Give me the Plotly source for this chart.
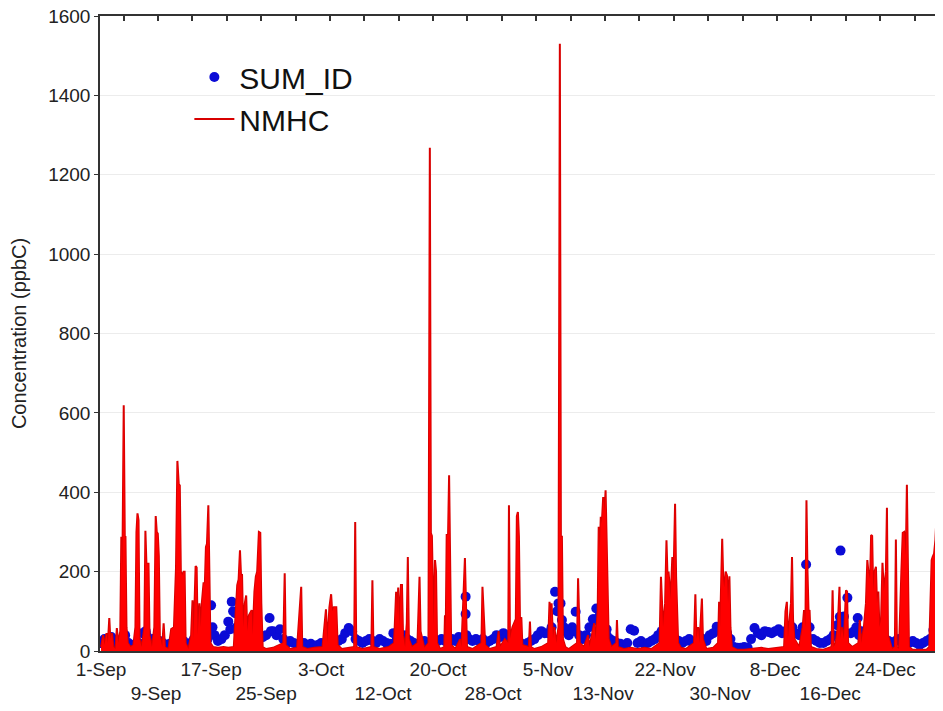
import pandas as pd
import plotly.graph_objects as go

# ---------------- data ----------------
start = pd.Timestamp("2011-09-01")

tick_dates = ["2011-09-01", "2011-09-09", "2011-09-17", "2011-09-25", "2011-10-03",
              "2011-10-12", "2011-10-20", "2011-10-28", "2011-11-05", "2011-11-13",
              "2011-11-22", "2011-11-30", "2011-12-08", "2011-12-16", "2011-12-24"]
tick_labels = ["1-Sep", "9-Sep", "17-Sep", "25-Sep", "3-Oct", "12-Oct", "20-Oct", "28-Oct",
               "5-Nov", "13-Nov", "22-Nov", "30-Nov", "8-Dec", "16-Dec", "24-Dec"]

# NMHC: time in days after 1-Sep 00:00, concentration in ppbC
nmhc_day = [
    0.0, 0.3, 0.5, 0.8, 1.0, 1.2, 1.35, 1.6, 1.8, 2.1,
    2.3, 2.5, 2.8, 2.95, 3.1, 3.3, 3.45, 3.55, 3.7, 3.9,
    4.3, 4.7, 5.0, 5.15, 5.3, 5.45, 5.6, 5.9, 6.3, 6.45,
    6.6, 6.75, 6.9, 7.05, 7.4, 7.75, 7.95, 8.1, 8.25, 8.4,
    8.55, 8.9, 9.1, 9.3, 9.8, 10.2, 10.6, 10.9, 11.1, 11.3,
    11.45, 11.6, 11.8, 12.0, 12.15, 12.3, 12.7, 13.1, 13.3, 13.45,
    13.75, 13.9, 14.05, 14.3, 14.5, 14.65, 14.9, 15.1, 15.25, 15.4,
    15.6, 15.75, 15.9, 16.3, 17.0, 17.8, 18.5, 19.3, 19.8, 20.0,
    20.2, 20.35, 20.5, 20.65, 20.9, 21.1, 21.25, 21.5, 21.9, 22.05,
    22.3, 22.5, 22.7, 22.95, 23.15, 23.3, 23.5, 24.0, 25.0, 26.5,
    26.7, 26.85, 27.5, 28.5, 29.1, 29.25, 30.0, 31.0, 32.2, 32.7,
    32.9, 33.2, 33.45, 33.6, 33.85, 34.2, 34.4, 35.0, 36.8, 36.95,
    37.1, 38.0, 39.3, 39.45, 39.6, 40.5, 41.8, 42.6, 42.9, 43.05,
    43.2, 43.35, 43.6, 43.75, 43.9, 44.2, 44.45, 44.6, 44.75, 45.2,
    46.0, 46.15, 46.3, 46.45, 47.0, 47.6, 47.8, 47.95, 48.1, 48.35,
    48.55, 48.7, 48.85, 49.3, 49.9, 50.0, 50.1, 50.25, 50.45, 50.6,
    50.75, 50.9, 51.5, 52.2, 52.4, 52.9, 53.05, 53.2, 54.0, 55.3,
    55.45, 55.55, 55.7, 55.85, 56.5, 57.5, 57.8, 58.0, 58.7, 59.2,
    59.3, 59.45, 59.8, 60.3, 60.45, 60.6, 60.75, 60.9, 61.1, 61.25,
    62.2, 62.35, 62.5, 63.0, 64.0, 65.0, 65.2, 65.35, 65.5, 65.7,
    65.9, 66.2, 66.5, 66.7, 66.85, 67.0, 67.15, 67.5, 68.0, 69.2,
    69.35, 69.5, 69.6, 70.2, 70.8, 71.0, 71.5, 71.7, 71.9, 72.2,
    72.35, 72.5, 72.65, 72.8, 73.0, 73.2, 73.35, 73.5, 73.65, 73.8,
    74.2, 74.9, 75.0, 75.15, 76.0, 77.0, 78.0, 79.0, 80.0, 81.2,
    81.4, 81.55, 81.7, 82.0, 82.2, 82.35, 82.5, 82.8, 83.05, 83.2,
    83.45, 83.6, 83.75, 83.9, 84.3, 85.0, 86.2, 86.4, 86.55, 86.8,
    87.0, 87.35, 87.5, 88.0, 89.0, 89.7, 89.85, 90.0, 90.3, 90.45,
    90.6, 90.8, 91.0, 91.15, 91.35, 91.5, 91.7, 92.5, 93.5, 95.0,
    96.0, 97.0, 98.0, 99.3, 99.5, 99.7, 99.85, 100.3, 100.45, 100.6,
    100.8, 101.5, 102.0, 102.2, 102.4, 102.55, 102.7, 102.85, 103.0, 103.2,
    104.0, 105.0, 106.2, 106.35, 106.5, 106.8, 107.1, 107.35, 107.5, 107.7,
    108.0, 108.3, 108.45, 108.6, 109.2, 110.1, 110.3, 110.5, 110.9, 111.2,
    111.4, 111.55, 111.8, 111.95, 112.1, 112.25, 112.45, 112.65, 112.8, 113.0,
    113.15, 113.4, 113.6, 113.8, 114.1, 114.25, 114.4, 114.7, 115.0, 115.4,
    115.55, 115.7, 116.0, 116.35, 116.55, 116.75, 117.0, 117.15, 117.3, 117.45,
    118.0, 119.0, 120.0, 120.4, 120.6, 120.75, 120.9, 121.1, 121.3, 121.45,
    121.6, 121.75, 121.9, 122.1,
]
nmhc_val = [
    10, 40, 15, 45, 20, 83, 30, 45, 10, 5,
    58, 20, 50, 288, 200, 619, 290, 288, 60, 20,
    10, 15, 60, 300, 347, 330, 30, 10, 60, 303,
    220, 221, 220, 40, 10, 60, 340, 300, 296, 240,
    40, 10, 70, 10, 5, 55, 60, 210, 479, 420,
    417, 200, 190, 200, 200, 20, 5, 40, 128, 30,
    214, 210, 40, 120, 60, 120, 171, 171, 262, 270,
    367, 200, 20, 10, 8, 10, 8, 10, 166, 180,
    254, 190, 191, 60, 120, 140, 50, 90, 103, 40,
    150, 187, 200, 300, 298, 120, 10, 5, 8, 20,
    196, 15, 5, 8, 162, 10, 5, 8, 10, 105,
    20, 110, 143, 100, 110, 110, 15, 5, 10, 325,
    10, 5, 10, 178, 10, 5, 10, 20, 149, 90,
    160, 60, 166, 166, 40, 10, 70, 237, 30, 10,
    20, 100, 187, 50, 8, 20, 1268, 297, 290, 60,
    229, 200, 20, 5, 10, 90, 30, 292, 292, 443,
    200, 15, 5, 30, 10, 234, 120, 10, 5, 20,
    162, 126, 100, 15, 5, 10, 50, 10, 30, 20,
    367, 30, 60, 80, 340, 350, 288, 80, 85, 15,
    10, 74, 10, 5, 10, 20, 124, 60, 120, 30,
    60, 20, 60, 1530, 288, 288, 30, 10, 5, 20,
    183, 80, 20, 10, 40, 10, 50, 70, 30, 100,
    313, 250, 338, 320, 388, 350, 405, 288, 200, 30,
    10, 20, 78, 10, 5, 8, 5, 8, 5, 20,
    187, 140, 60, 120, 279, 190, 200, 130, 237, 160,
    371, 187, 120, 20, 8, 5, 20, 143, 30, 60,
    20, 132, 30, 5, 8, 20, 124, 60, 283, 180,
    160, 200, 190, 120, 188, 60, 10, 3, 3, 5,
    8, 5, 8, 10, 100, 124, 30, 120, 237, 80,
    30, 10, 60, 103, 60, 380, 200, 100, 103, 10,
    5, 3, 10, 153, 10, 20, 60, 162, 30, 60,
    30, 153, 150, 20, 10, 20, 78, 20, 60, 120,
    229, 200, 180, 292, 290, 150, 200, 212, 120, 150,
    60, 80, 222, 150, 200, 361, 40, 20, 5, 10,
    281, 10, 5, 200, 298, 300, 240, 419, 180, 10,
    3, 3, 3, 10, 178, 229, 237, 245, 280, 338,
    245, 230, 200, 150,
]

# SUM_ID: twice-daily values starting 1-Sep 00:00 (ppbC)
sum_id_val = [
    20, 30, 25, 35, 15, 20, 25, 40, 20, 15,
    15, 20, 45, 50, 25, 30, 20, 25, 20, 15,
    18, 20, 30, 20, 25, 15, 20, 30, 25, 35,
    40, 30, 115, 40, 25, 30, 40, 74, 124, 95,
    45, 35, 30, 25, 20, 25, 30, 35, 40, 83,
    50, 40, 55, 30, 20, 25, 20, 18, 15, 20,
    15, 18, 12, 15, 20, 18, 22, 15, 20, 25,
    30, 45, 58, 50, 30, 25, 20, 25, 30, 25,
    20, 30, 25, 20, 18, 45, 30, 35, 40, 30,
    25, 20, 15, 20, 25, 15, 18, 20, 25, 30,
    25, 20, 30, 25, 35, 25, 137, 30, 25, 30,
    25, 30, 20, 25, 30, 40, 35, 45, 40, 35,
    30, 25, 20, 15, 20, 25, 30, 40, 50, 45,
    45, 60, 149, 120, 78, 50, 40, 60, 99, 40,
    30, 40, 60, 80, 107, 90, 60, 40, 30, 25,
    20, 18, 15, 20, 55, 51, 20, 25, 18, 20,
    25, 30, 40, 50, 45, 40, 35, 30, 25, 20,
    25, 30, 20, 25, 35, 30, 25, 40, 45, 61,
    50, 40, 45, 30, 10, 8, 8, 10, 8, 30,
    58, 45, 40, 50, 48, 45, 50, 55, 45, 50,
    55, 60, 45, 40, 60, 218, 60, 30, 25, 20,
    20, 25, 30, 40, 65, 253, 87, 134, 45, 50,
    83, 50, 40, 30, 35, 30, 25, 30, 20, 25,
    20, 25, 30, 20, 15, 20, 25, 20, 15, 20,
    25, 30, 53, 40,
]
# additional SUM_ID samples (days after 1-Sep, ppbC)
sum_id_extra_day = [3.4, 6.6, 16.2, 18.8, 19.2, 19.7, 24.7, 53.0, 53.1, 66.3, 66.8,
                    67.3, 68.8, 71.7, 72.5, 73.5, 102.6, 107.4, 107.6, 108.2, 109.8, 110.2]
sum_id_extra_val = [30, 40, 60, 55, 100, 60, 50, 93, 40, 100, 120,
                    60, 50, 80, 70, 55, 60, 86, 65, 45, 60, 40]

# ---------------- build ----------------
nmhc_t = start + pd.to_timedelta(nmhc_day, unit="D")
sum_t = list(pd.date_range(start, periods=len(sum_id_val), freq="12h")) + \
    list(start + pd.to_timedelta(sum_id_extra_day, unit="D"))
sum_v = sum_id_val + sum_id_extra_val

FONT = "Liberation Sans, Arial, sans-serif"

fig = go.Figure()
fig.add_trace(go.Scatter(
    x=sum_t, y=sum_v, mode="markers", name="SUM_ID",
    marker=dict(color="#0b0bd6", size=10, line=dict(width=0)),
))
# filled body of NMHC (drawn on the top-axis overlay, which has the identical range)
fig.add_trace(go.Scatter(
    x=nmhc_t, y=nmhc_val, mode="lines", showlegend=False, hoverinfo="skip",
    xaxis="x2", yaxis="y",
    line=dict(width=0, color="#ff0000"), fill="tozeroy", fillcolor="#ff0000",
))
fig.add_trace(go.Scatter(
    x=nmhc_t, y=nmhc_val, mode="lines", name="NMHC",
    line=dict(color="#d80000", width=2),
))

x0 = start - pd.Timedelta(hours=3.6)
x1 = start + pd.Timedelta(days=122.4)

ticktext = [lab if i % 2 == 0 else "<br>" + lab for i, lab in enumerate(tick_labels)]

fig.update_layout(
    width=943, height=711,
    margin=dict(l=92, r=8, t=8, b=68),
    paper_bgcolor="white", plot_bgcolor="white",
    font=dict(family=FONT, color="#222222"),
    showlegend=True,
    legend=dict(x=0.106, y=0.945, xanchor="left", yanchor="top",
                bgcolor="rgba(0,0,0,0)", font=dict(size=30, family=FONT, color="#111111"),
                itemwidth=40),
    xaxis=dict(
        range=[x0, x1], tickmode="array", tickvals=tick_dates, ticktext=ticktext,
        tickangle=0, automargin=False, ticklabeloverflow="allow",
        tickfont=dict(size=19, family=FONT, color="#222222"),
        showgrid=False, showline=True, linecolor="#333333", linewidth=1.5,
        ticks="", zeroline=False,
    ),
    xaxis2=dict(
        range=[x0, x1], overlaying="x", side="top", anchor="y",
        tick0=start + pd.Timedelta(days=3.27), dtick=5 * 86400000,
        ticks="inside", ticklen=5, tickwidth=1.5, tickcolor="#333333",
        showticklabels=False, showgrid=False, showline=True, automargin=False,
        linecolor="#333333", linewidth=2, zeroline=False,
    ),
    yaxis=dict(
        range=[0, 1600], dtick=200, tickfont=dict(size=19, family=FONT, color="#222222"),
        ticks="outside", ticklen=4, tickcolor="#333333", automargin=False,
        ticklabeloverflow="allow",
        showgrid=True, gridcolor="#ececec", gridwidth=1,
        showline=True, linecolor="#333333", linewidth=1.5, zeroline=False,
        title=dict(text="Concentration (ppbC)", font=dict(size=20, family=FONT, color="#222222"),
                   standoff=17),
    ),
)

fig.write_html("out.html")
